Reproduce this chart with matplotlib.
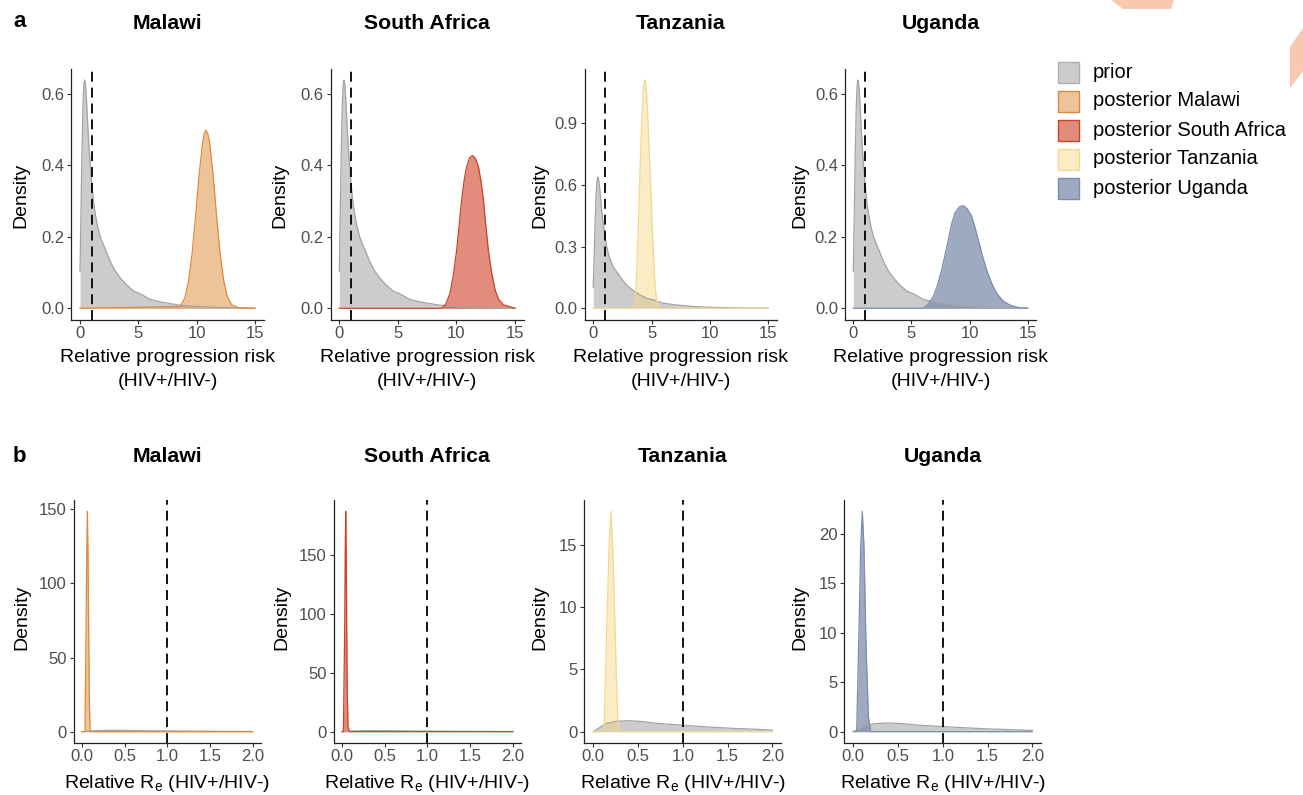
import matplotlib
matplotlib.use("Agg")
import matplotlib.pyplot as plt
from matplotlib.patches import Rectangle, Polygon

plt.rcParams['font.family'] = ['Liberation Sans', 'DejaVu Sans']
plt.rcParams['mathtext.fontset'] = 'custom'
plt.rcParams['mathtext.rm'] = 'Liberation Sans'

# ---------------- data ----------------
countries = ["Malawi", "South Africa", "Tanzania", "Uganda"]
legend_labels = ["prior", "posterior Malawi", "posterior South Africa",
                 "posterior Tanzania", "posterior Uganda"]

# panel a: relative progression risk
prior_a_x = [0, 0.08, 0.16, 0.25, 0.3, 0.35, 0.4, 0.45, 0.5, 0.56, 0.65, 0.75, 0.86, 1.0, 1.15, 1.3, 1.5,
             1.75, 2.0, 2.3, 2.6, 3.0, 3.5, 4.0, 4.6, 5.2, 6.0, 7.0, 8.5, 10.0, 12.0, 15.0]
prior_a_y = [0.103, 0.26, 0.42, 0.56, 0.605, 0.63, 0.638, 0.63, 0.61, 0.58, 0.52, 0.46, 0.41, 0.35, 0.3, 0.265, 0.23,
             0.198, 0.178, 0.155, 0.13, 0.105, 0.083, 0.065, 0.048, 0.04, 0.025, 0.017, 0.009, 0.005, 0.002, 0.0005]

malawi_a_x = [0, 8.6, 9.0, 9.3, 9.6, 9.9, 10.2, 10.5, 10.65, 10.8, 10.95, 11.1, 11.4, 11.7, 12.0, 12.3,
              12.6, 13.0, 13.6, 15]
malawi_a_y = [0, 0.005, 0.03, 0.075, 0.15, 0.255, 0.37, 0.46, 0.488, 0.498, 0.488, 0.465, 0.375, 0.26, 0.155, 0.08,
              0.035, 0.01, 0.001, 0]

safrica_a_x = [0, 8.74, 9.1, 9.45, 9.75, 10.02, 10.24, 10.45, 10.67, 10.88, 11.12, 11.36, 11.6, 11.87,
               12.1, 12.3, 12.5, 12.72, 13.0, 13.3, 13.6, 14.0, 15]
safrica_a_y = [0, 0, 0.012, 0.042, 0.095, 0.163, 0.235, 0.304, 0.36, 0.397, 0.42, 0.427, 0.42, 0.397,
               0.355, 0.304, 0.235, 0.163, 0.1, 0.051, 0.025, 0.01, 0]

tanzania_a_x = [0, 3.57, 3.71, 3.91, 4.02, 4.14, 4.29, 4.36, 4.43, 4.5, 4.57, 4.67, 4.77, 4.88,
                5.0, 5.1, 5.2, 5.3, 5.43, 5.71, 15]
tanzania_a_y = [0, 0, 0.154, 0.48, 0.69, 0.887, 1.066, 1.1, 1.111, 1.095, 1.05, 0.94, 0.806, 0.65,
                0.48, 0.33, 0.203, 0.11, 0.04, 0, 0]

uganda_a_x = [0, 6.02, 6.45, 6.88, 7.25, 7.6, 7.9, 8.17, 8.45, 8.74, 9.1, 9.46, 9.8, 10.18, 10.47,
              10.75, 11.1, 11.47, 11.9, 12.33, 12.9, 13.47, 14.2, 15]
uganda_a_y = [0, 0, 0.012, 0.033, 0.065, 0.107, 0.15, 0.191, 0.235, 0.266, 0.283, 0.287, 0.278, 0.257,
              0.226, 0.191, 0.148, 0.107, 0.07, 0.042, 0.02, 0.009, 0.002, 0]

# panel b: relative Re
prior_b_x = [0, 0.074, 0.149, 0.26, 0.39, 0.52, 0.71, 0.97, 1.23, 1.49, 1.75, 2.0]
prior_b_y = [0, 0.35, 0.67, 0.83, 0.88, 0.83, 0.67, 0.53, 0.40, 0.29, 0.21, 0.13]

malawi_b_x = [0, 0.035, 0.047, 0.055, 0.0625, 0.07, 0.078, 0.086, 0.094, 0.1, 2.0]
malawi_b_y = [0, 0, 68.5, 120, 148.7, 120, 68.5, 20, 3.4, 0, 0]

safrica_b_x = [0, 0.016, 0.031, 0.037, 0.043, 0.049, 0.055, 0.062, 0.07, 0.086, 2.0]
safrica_b_y = [0, 0, 86, 150, 187.4, 150, 86, 30, 4.2, 0, 0]

tanzania_b_x = [0, 0.119, 0.149, 0.175, 0.197, 0.223, 0.253, 0.272, 0.29, 2.0]
tanzania_b_y = [0, 0, 8.14, 14.8, 17.67, 13.5, 5.47, 1.2, 0, 0]

uganda_b_x = [0, 0.037, 0.063, 0.082, 0.1, 0.119, 0.142, 0.168, 0.194, 2.0]
uganda_b_y = [0, 0, 10.3, 18.7, 22.3, 18.7, 8.6, 1.5, 0, 0]

a_yticks = [[0, 0.2, 0.4, 0.6], [0, 0.2, 0.4, 0.6], [0, 0.3, 0.6, 0.9], [0, 0.2, 0.4, 0.6]]
a_xticks = [0, 5, 10, 15]
b_yticks = [[0, 50, 100, 150], [0, 50, 100, 150], [0, 5, 10, 15], [0, 5, 10, 15, 20]]
b_xticks = [0.0, 0.5, 1.0, 1.5, 2.0]
ref_line = 1.0

# ---------------- styles ----------------
prior_col = "#9b9b9b"
prior_alpha = 0.5
post_cols = ["#dd8937", "#cd3f26", "#f5d57d", "#7486a5"]
post_line = ["#e0893a", "#cf4126", "#f3d88f", "#7c8db0"]
post_alpha = [0.5, 0.6, 0.45, 0.7]

W, H = 1303, 795
fig = plt.figure(figsize=(W / 100, H / 100), dpi=100)


def add_ax(left, right, top, bottom):
    return fig.add_axes([left / W, 1 - bottom / H, (right - left) / W, (bottom - top) / H])


top_boxes = [(71.25, 263.75), (330.5, 523.8), (584.5, 777.0), (844.6, 1036.4)]
bot_boxes = [(73.5, 261.2), (333.5, 521.3), (584.4, 781.2), (844.4, 1041.2)]
top_ylabel_x = [21, 280, 540, 800]
bot_ylabel_x = [21.5, 282, 540, 800]

a_post = [(malawi_a_x, malawi_a_y), (safrica_a_x, safrica_a_y),
          (tanzania_a_x, tanzania_a_y), (uganda_a_x, uganda_a_y)]
b_post = [(malawi_b_x, malawi_b_y), (safrica_b_x, safrica_b_y),
          (tanzania_b_x, tanzania_b_y), (uganda_b_x, uganda_b_y)]


def style_axis(ax):
    for s in ["top", "right"]:
        ax.spines[s].set_visible(False)
    for s in ["left", "bottom"]:
        ax.spines[s].set_color("#222222")
        ax.spines[s].set_linewidth(0.9)
    ax.tick_params(axis="both", colors="#333333", labelcolor="#4d4d4d",
                   labelsize=12, length=3, width=0.8, pad=1.8)
    ax.set_facecolor("none")


def draw_panel(ax, px, py, qx, qy, i, xmax, xticks, yticks, fmt):
    ax.fill_between(px, 0, py, color=prior_col, alpha=prior_alpha, lw=0)
    ax.plot(px, py, color="#a3a3a3", lw=0.9)
    ax.fill_between(qx, 0, qy, color=post_cols[i], alpha=post_alpha[i], lw=0)
    ax.plot(qx, qy, color=post_line[i], lw=0.9)
    ax.axvline(ref_line, color="black", lw=1.3, linestyle=(0, (5.5, 3.3)))
    ymax = max(max(py), max(qy))
    ax.set_ylim(-0.05 * ymax, 1.05 * ymax)
    ax.set_xlim(-0.05 * xmax, 1.05 * xmax)
    ax.set_xticks(xticks)
    ax.set_xticklabels([fmt(t) for t in xticks])
    ax.set_yticks(yticks)
    style_axis(ax)


for i, c in enumerate(countries):
    l, r = top_boxes[i]
    ax = add_ax(l, r, 68.6, 319.7)
    draw_panel(ax, prior_a_x, prior_a_y, a_post[i][0], a_post[i][1], i, 15, a_xticks,
               a_yticks[i], lambda t: f"{t:g}")
    ax.set_yticklabels([f"{t:.1f}" for t in a_yticks[i]])
    cx = (l + r) / 2
    fig.text(cx / W, 1 - 29 / H, c, ha="center", va="baseline", fontsize=15.3, fontweight="bold")
    fig.text(top_ylabel_x[i] / W, 1 - 195 / H, "Density", rotation=90, ha="center", va="center",
             fontsize=14)
    fig.text(cx / W, 1 - 357 / H, "Relative progression risk", ha="center", va="center", fontsize=14)
    fig.text(cx / W, 1 - 382 / H, "(HIV+/HIV-)", ha="center", va="center", fontsize=14)

    l, r = bot_boxes[i]
    ax = add_ax(l, r, 500.3, 742.7)
    draw_panel(ax, prior_b_x, prior_b_y, b_post[i][0], b_post[i][1], i, 2.0, b_xticks,
               b_yticks[i], lambda t: f"{t:.1f}")
    ax.set_yticklabels([f"{t:d}" for t in b_yticks[i]])
    cx = (l + r) / 2
    fig.text(cx / W, 1 - 461.7 / H, c, ha="center", va="baseline", fontsize=15.3, fontweight="bold")
    fig.text(bot_ylabel_x[i] / W, 1 - 617 / H, "Density", rotation=90, ha="center", va="center",
             fontsize=14)
    fig.text(cx / W, 1 - 784 / H, r"Relative R$_\mathregular{e}$ (HIV+/HIV-)", ha="center",
             va="center", fontsize=14)

# panel letters
fig.text(13 / W, 1 - 27 / H, "a", ha="left", va="baseline", fontsize=16, fontweight="bold")
fig.text(13 / W, 1 - 462 / H, "b", ha="left", va="baseline", fontsize=16, fontweight="bold")

# legend
leg_fill = [prior_col] + post_cols
leg_alpha = [prior_alpha] + post_alpha
leg_edge = ["#b0b0b0"] + post_line
leg_y = [72, 101, 130, 159, 188]
for lab, fc, a, ec, yc in zip(legend_labels, leg_fill, leg_alpha, leg_edge, leg_y):
    fig.add_artist(Rectangle((1058 / W, 1 - (yc + 10.5) / H), 21 / W, 21 / H,
                             transform=fig.transFigure, facecolor=matplotlib.colors.to_rgba(fc, a),
                             edgecolor=ec, lw=1.0))
    fig.text(1093 / W, 1 - yc / H, lab, ha="left", va="center", fontsize=14.5)

# decorative corner shapes
deco = "#f9c8b0"
fig.add_artist(Polygon([(1111 / W, 1), (1174 / W, 1), (1171 / W, 1 - 9 / H), (1123 / W, 1 - 9 / H)],
                       closed=True, transform=fig.transFigure, facecolor=deco, edgecolor="none"))
fig.add_artist(Polygon([(1290 / W, 1 - 47 / H), (1303 / W, 1 - 28 / H), (1303 / W, 1 - 71 / H),
                        (1290 / W, 1 - 88 / H)],
                       closed=True, transform=fig.transFigure, facecolor=deco, edgecolor="none"))

fig.savefig("out.png", dpi=100)
